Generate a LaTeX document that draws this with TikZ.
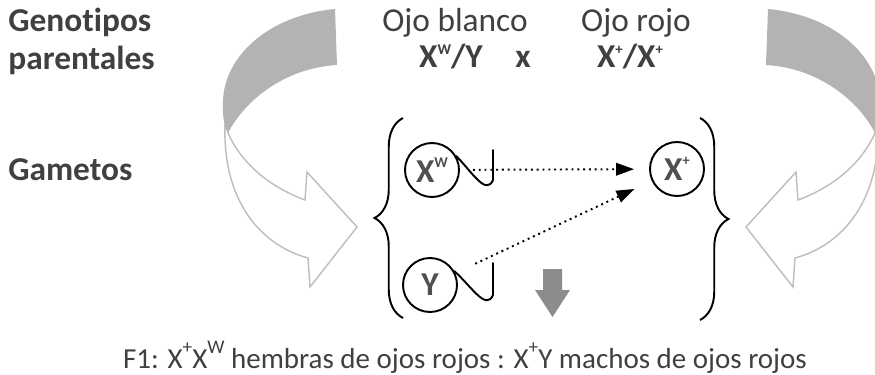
\documentclass[tikz,border=0pt]{standalone}
\usepackage{fontspec}
\setmainfont{Carlito}[Ligatures=NoCommon]
\usetikzlibrary{arrows.meta,positioning,decorations.pathreplacing}
\definecolor{genink}{HTML}{404040}
\definecolor{genletter}{HTML}{505050}
\definecolor{genband}{HTML}{B3B3B3}
\definecolor{genrim}{HTML}{BDBDBD}
\definecolor{gendrop}{HTML}{8C8C8C}
\newcommand{\hsup}[3]{\raisebox{#1}{\fontsize{#2}{#2}\selectfont #3}}
\tikzset{
  lbl/.style={font=\bfseries\fontsize{19}{22}\selectfont, text=genink, anchor=base west, inner sep=0pt},
  eye/.style={font=\fontsize{19}{22}\selectfont, text=genink, anchor=base, inner sep=0pt},
  geno/.style={font=\bfseries\fontsize{19}{22}\selectfont, text=genink, anchor=base, inner sep=0pt},
  gam/.style={circle, draw=black, line width=1.1pt, minimum size=1.08cm, inner sep=0pt, font=\bfseries\fontsize{19}{20}\selectfont, text=genletter},
  tail/.style={line width=1.1pt, line cap=round},
  dots/.style={line width=1.1pt, dash pattern=on 1.1pt off 2.2pt, -{Triangle[length=3.6mm, width=2.5mm]}},
  brc/.style={decorate, decoration={brace, amplitude=0.57cm}, line width=1.1pt},
  rim/.style={draw=genrim, line width=0.8pt, fill=white},
  swoop/.pic={
    \draw[rim] (228,133) .. controls (240,160) and (265,185) .. (305,200) -- (307,172) -- (357,227)
      -- (310,287) -- (308,258) .. controls (260,245) and (222,200) .. (225,123) -- cycle;
    \fill[genband] (335,9) .. controls (270,15) and (225,55) .. (223,100)
      .. controls (222,115) and (224,125) .. (228,133)
      .. controls (245,100) and (285,68) .. (337,65) -- cycle;
  },
}
\begin{document}
\begin{tikzpicture}[x=0.02cm, y=-0.02cm]
  \clip (0,0) rectangle (875,375);
  % curved arrows
  \pic at (0,0) {swoop};
  \pic[xscale=-1] at (1103,0) {swoop};
  % headings
  \node[lbl] (geno) at (8,32) {Genotipos};
  \node[lbl] (pare) at (8,70) {parentales};
  \node[lbl] (game) at (8,180) {Gametos};
  \node[eye] (blanco) at (455,32) {Ojo blanco};
  \node[eye] (rojo) at (636,32) {Ojo rojo};
  \node[geno] (padre) at (451,68) {X\hsup{7.5pt}{8.5}{W}/Y};
  \node[geno] (cruce) at (523,68) {x};
  \node[geno] (madre) at (630,68) {X\hsup{7.5pt}{8.5}{+}/X\hsup{7.5pt}{8.5}{+}};
  % gametes
  \node[gam] (xw) at (432,170) {X\hsup{8.5pt}{8.5}{W}};
  \node[gam] (y) at (430,285) {Y};
  \node[gam] (xp) at (677,169) {X\hsup{8.5pt}{8.5}{+}};
  \draw[tail] (xw.30) .. controls (472,172) and (486,196) .. (493,180) -- (493,150);
  \draw[tail] (y.30) .. controls (472,287) and (486,311) .. (493,295) -- (493,263);
  \draw[dots, shorten <=0.26cm, shorten >=0.3cm] (xw) -- (xp);
  \draw[dots, shorten <=0.44cm, shorten >=0.38cm] (y) -- (xp);
  \draw[brc] (403,318) -- (403,118);
  \draw[brc] (700,118) -- (700,320);
  \fill[gendrop] (543,269) -- (562,269) -- (562,290) -- (570,290) -- (552.5,317) -- (535,290) -- (543,290) -- cycle;
  % offspring
  \node[eye, font=\fontsize{16.5}{20}\selectfont] (f1) at (465,368) {F1: X\hsup{8pt}{11}{+}X\hsup{8pt}{11}{W} hembras de ojos rojos : X\hsup{8pt}{11}{+}Y machos de ojos rojos};
\end{tikzpicture}
\end{document}
